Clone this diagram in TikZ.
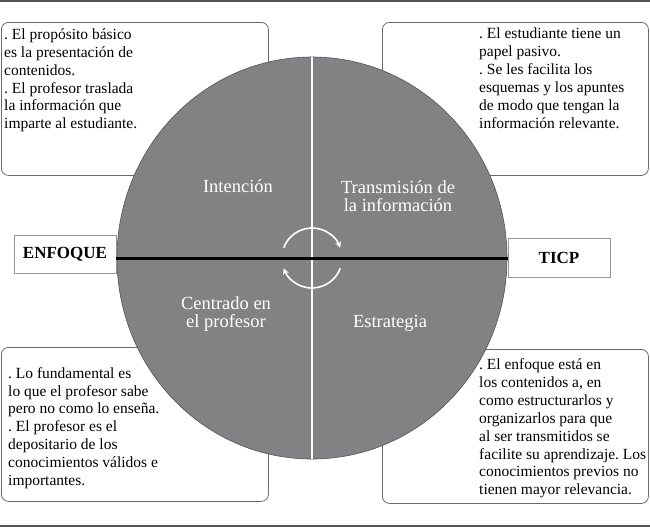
\documentclass[tikz,border=0pt]{standalone}
\usepackage{fontspec}
\setmainfont{Liberation Serif}
\usetikzlibrary{arrows.meta}
\definecolor{circulogris}{RGB}{130,130,133}
\definecolor{bordegris}{RGB}{105,105,105}
\definecolor{lineagris}{RGB}{85,85,85}

\begin{document}
\begin{tikzpicture}[x=1pt,y=-1pt,
  cuadro/.style={draw=bordegris,fill=white,rounded corners=7pt,anchor=north west,inner sep=0pt,line width=0.8pt},
  texto/.style={anchor=north west,align=left,inner sep=0pt,font=\fontsize{15.5}{17.9}\selectfont\frenchspacing},
  etiqueta/.style={text=white,align=center,inner sep=0pt,font=\fontsize{18.5}{18.5}\selectfont},
  caja/.style={draw=bordegris!70,fill=white,minimum width=102pt,inner sep=0pt,line width=0.8pt,font=\fontsize{17}{18}\selectfont\bfseries},
  giro/.style={draw=white,line width=1.6pt,-{Stealth[length=6pt,width=6pt]}}]

\useasboundingbox (0,0) rectangle (650,528);
\draw[lineagris,line width=1.5pt] (0,1) -- (650,1);
\draw[lineagris,line width=1.5pt] (0,526) -- (650,526);

% cuadros de texto
\node[cuadro,minimum width=267pt,minimum height=153pt] (cuadroA) at (1,22) {};
\node[cuadro,minimum width=266pt,minimum height=153pt] (cuadroB) at (382,22) {};
\node[cuadro,minimum width=267pt,minimum height=154pt] (cuadroC) at (1,347) {};
\node[cuadro,minimum width=266pt,minimum height=154pt] (cuadroD) at (382,349) {};

% circulo
\coordinate (centro) at (312,258);
\filldraw[fill=circulogris,draw=bordegris!80!black,line width=0.6pt] (centro) ellipse [x radius=195, y radius=201];
\draw[white,line width=2pt] (centro) ++(0,-201) -- ++(0,402);

\node[caja,minimum height=38pt] (enfoque) at (65,254) {ENFOQUE};
\node[caja,minimum height=39pt] (ticp) at (559,257.5) {TICP};
\draw[black,line width=3pt] (enfoque.east |- centro) -- (ticp.west |- centro);

\draw[giro] (centro) ++(-160:30) arc[start angle=-160,end angle=-20,radius=30];
\draw[giro] (centro) ++(20:30) arc[start angle=20,end angle=160,radius=30];

\node[etiqueta,anchor=base] (intencion) at (238,192) {Intención};
\node[etiqueta] (transmision) at (398,196) {Transmisión de\\la información};
\node[etiqueta] (centrado) at (226,314) {Centrado en\\el profesor};
\node[etiqueta,anchor=base] (estrategia) at (390,327) {Estrategia};

\node[texto] (textoA) at (4,28.4) {. El propósito básico\\es la presentación de\\contenidos.\\. El profesor traslada\\la información que\\imparte al estudiante.};
\node[texto] (textoB) at (479,28) {. El estudiante tiene un\\papel pasivo.\\. Se les facilita los\\esquemas y los apuntes\\de modo que tengan la\\información relevante.};
\node[texto] (textoC) at (8,367) {. Lo fundamental es\\lo que el profesor sabe\\pero no como lo enseña.\\. El profesor es el\\depositario de los\\conocimientos válidos e\\importantes.};
\node[texto] (textoD) at (479,358.4) {. El enfoque está en\\los contenidos a, en\\como estructurarlos y\\organizarlos para que\\al ser transmitidos se\\facilite su aprendizaje. Los\\conocimientos previos no\\tienen mayor relevancia.};
\end{tikzpicture}
\end{document}
